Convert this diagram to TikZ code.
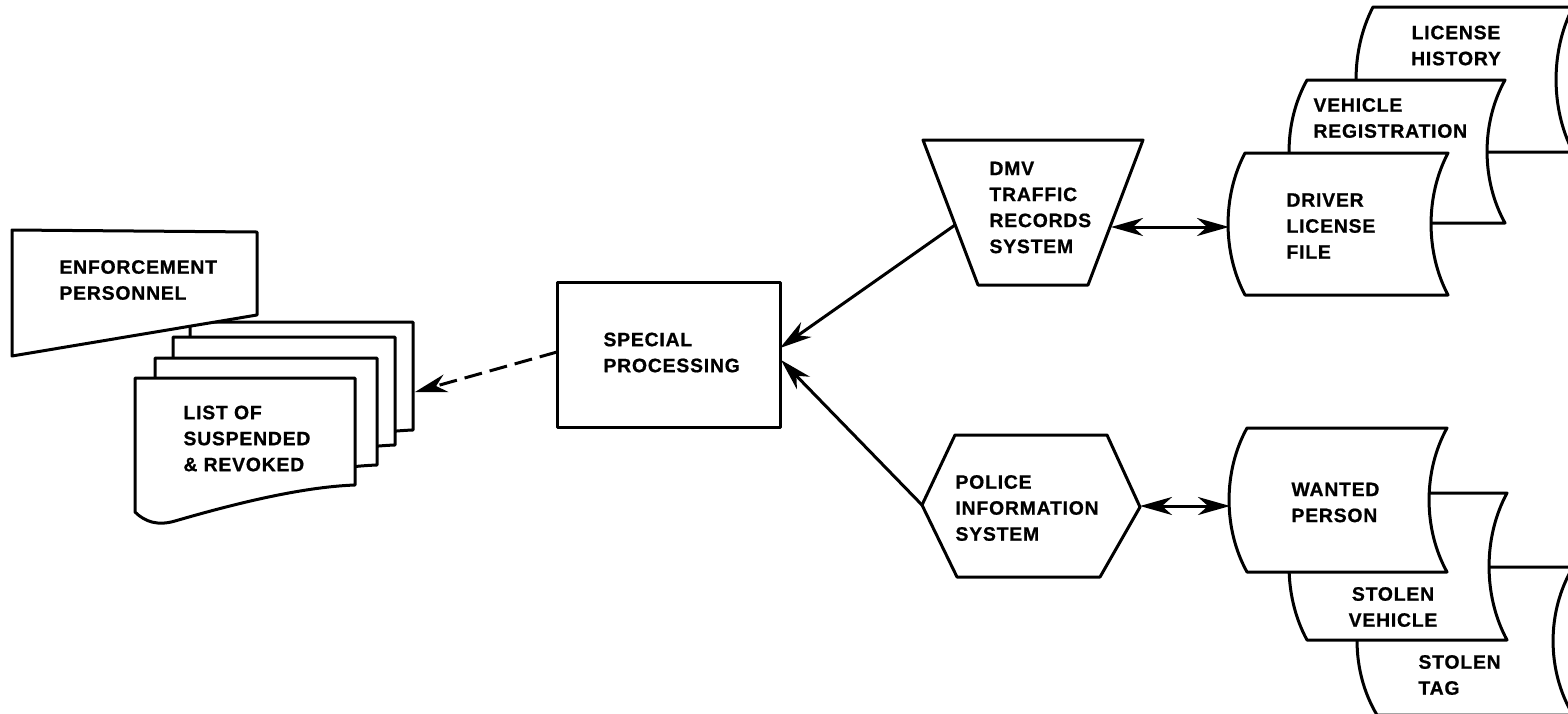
\documentclass[tikz,border=0pt]{standalone}
\usepackage{fontspec}
\newfontfamily\lblfont{Liberation Sans}[LetterSpace=4.0, BoldFeatures={FakeBold=0.8}]
\usetikzlibrary{arrows.meta}
\newcommand\storshape[5]{%
\path[shp] (#1,#2) -- ({#1+#3},#2) .. controls ({#1+#3-1.33*#5},{#2+0.3*#4}) and ({#1+#3-1.33*#5},{#2+0.7*#4}) .. ({#1+#3},{#2+#4}) -- (#1,{#2+#4}) .. controls ({#1-1.33*#5},{#2+0.7*#4}) and ({#1-1.33*#5},{#2+0.3*#4}) .. cycle;}
\newcommand\docshape[4]{%
\path[shp] (#1,#2) -- ({#1+#3},#2) -- ({#1+#3},{#2+#4}) .. controls ({#1+#3-55},{#2+#4+2}) and ({#1+95},{#2+#4+20}) .. ({#1+40},{#2+#4+36}) .. controls ({#1+23},{#2+#4+41}) and ({#1+10},{#2+#4+37}) .. (#1,{#2+#4+27}) -- cycle;}
\begin{document}
\begin{tikzpicture}[x=0.5pt,y=-0.5pt, line width=1.5pt, line join=round,
  lbl/.style={font=\lblfont\bfseries\fontsize{9.7}{13}\selectfont, align=left, inner sep=0pt, anchor=west},
  clbl/.style={font=\lblfont\bfseries\fontsize{9.7}{13}\selectfont, align=center, inner sep=0pt},
  shp/.style={draw=black, fill=white},
  tipa/.tip={Stealth[length=16pt,width=9pt,inset=5pt]},
  arr/.style={-tipa},
  darr/.style={tipa-tipa},
  dsh/.style={dash pattern=on 9pt off 4pt}]
\fill[white] (0,0) rectangle (1568,713);
\useasboundingbox (0,0) rectangle (1568,713);
\clip (0,0) rectangle (1568,713);

% ---- stacked documents (back to front)
\docshape{190}{322}{223}{108}
\docshape{173}{337}{222}{108}
\docshape{155}{358}{222}{107}
\docshape{135}{378}{220}{107}
\node[lbl] (list) at (182,438.5) {LIST OF\\SUSPENDED\\\& REVOKED};
\coordinate (docR) at (415,392);

% ---- enforcement personnel
\path[shp] (12,230) -- (257,232) -- (257,315) -- (12,356) -- cycle;
\node[lbl] (enf) at (58,280) {ENFORCEMENT\\PERSONNEL};

% ---- special processing
\path[shp] (557,282) rectangle (780,427);
\node[lbl] (sp) at (602,352.5) {SPECIAL\\PROCESSING};
\coordinate (spL) at (557,352);
\coordinate (spR1) at (780,348);
\coordinate (spR2) at (781,360);

% ---- DMV trapezoid
\path[shp] (923,140) -- (1143,140) -- (1088,285) -- (978,285) -- cycle;
\node[lbl] (dmv) at (988,207.5) {DMV\\TRAFFIC\\RECORDS\\SYSTEM};
\coordinate (dmvL) at (955,225);
\coordinate (dmvR) at (1111,227);

% ---- police hexagon
\path[shp] (955,435) -- (1107,435) -- (1140,507) -- (1100,577) -- (957,577) -- (922,505) -- cycle;
\node[lbl] (pol) at (954,508) {POLICE\\INFORMATION\\SYSTEM};
\coordinate (polL) at (922,505);
\coordinate (polR) at (1140,506);

% ---- upper storage files
\storshape{1373}{7}{200}{145}{17}
\node[clbl] (lh) at (1456,45.5) {LICENSE\\HISTORY};
\storshape{1307}{80}{198}{143}{18}
\node[lbl] (vr) at (1312,118) {VEHICLE\\REGISTRATION};
\storshape{1245}{153}{203}{142}{17}
\node[lbl] (dl) at (1285,226) {DRIVER\\LICENSE\\FILE};
\coordinate (dlL) at (1229,227);

% ---- lower storage files
\storshape{1377}{567}{196}{148}{20}
\node[lbl] (st) at (1417,675) {STOLEN\\TAG};
\storshape{1307}{493}{200}{147}{18}
\node[clbl] (sv) at (1393,607) {STOLEN\\VEHICLE};
\storshape{1247}{428}{200}{144}{18}
\node[lbl] (wp) at (1290,502.5) {WANTED\\PERSON};
\coordinate (wpL) at (1230,506);

% ---- connectors
\draw[arr] (dmvL) -- (spR1);
\draw[arr] (polL) -- (spR2);
\draw[arr,dsh] (spL) -- (docR);
\draw[darr] (dmvR) -- (dlL);
\draw[darr] (polR) -- (wpL);
\end{tikzpicture}
\end{document}
